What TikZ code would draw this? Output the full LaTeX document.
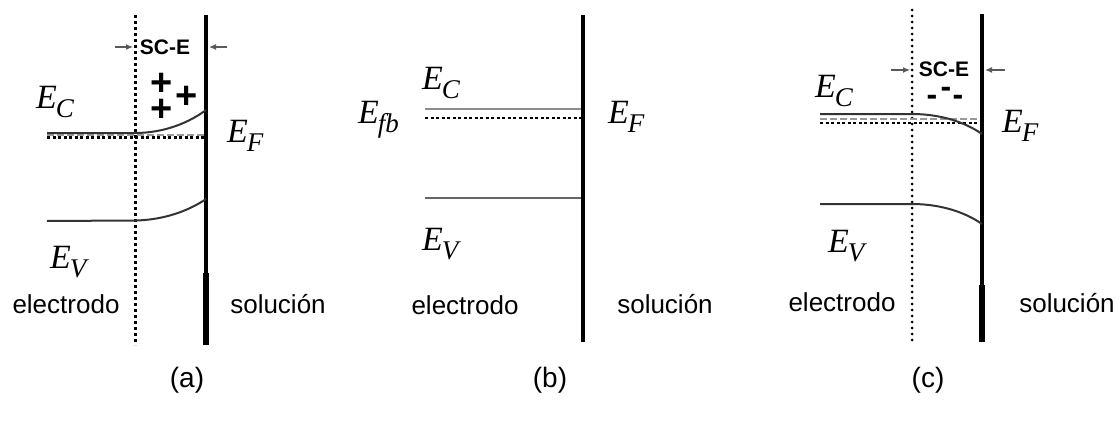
\documentclass[tikz,border=0pt]{standalone}
\usepackage{fontspec}
\setmainfont{Liberation Serif}
\newfontfamily\arialf{Liberation Sans}
\usetikzlibrary{arrows.meta}
\newcommand\lvl[1]{\textit{E}\kern-1pt\raisebox{-9pt}{\fontsize{27}{27}\selectfont\textit{#1}}}
\begin{document}
\begin{tikzpicture}[x=1pt,y=-1pt,
  wall/.style={line width=4.5pt, black},
  sqdots/.style={line width=3pt, dash pattern=on 3pt off 3pt},
  rddots/.style={line width=3pt, line cap=round, dash pattern=on 0pt off 6pt},
  band/.style={line width=2pt, black!80},
  fermi/.style={line width=2.5pt, dash pattern=on 3pt off 2.5pt},
  fermigray/.style={line width=1.8pt, black!40, dash pattern=on 7pt off 3pt},
  lbl/.style={font=\fontsize{34}{34}\selectfont, inner sep=0pt, anchor=base west},
  txt/.style={font=\arialf\fontsize{26}{26}\selectfont, inner sep=0pt, anchor=base},
  sublabel/.style={font=\arialf\fontsize{28}{28}\selectfont, inner sep=0pt, anchor=base},
  sc/.style={font=\arialf\bfseries\fontsize{21}{21}\selectfont, inner sep=0pt},
  chg/.style={font=\arialf\bfseries\fontsize{38}{38}\selectfont, inner sep=0pt},
  mchg/.style={font=\arialf\bfseries\fontsize{32}{32}\selectfont, inner sep=0pt},
  dimarrow/.style={-{Latex[length=7pt,width=6pt]}, line width=1.2pt, black!65}]
\useasboundingbox (0,0) rectangle (1117,423);

% ---------- panel (a)
\draw[sqdots] (135,15) -- (135,345);
\draw[wall] (206,15) -- (206,345);
\draw[line width=5.5pt] (206,273) -- (206,345);
\draw[fermigray] (47,135) -- (204,135);
\draw[fermi] (47,137.5) -- (204,137.5);
\draw[band] (47,133) -- (135,133) .. controls (165,133) and (190,122) .. (206,110);
\draw[band] (47,221) -- (135,220.5) .. controls (165,220) and (190,210) .. (206,199);
\node[lbl] (ecA) at (36,108) {\lvl{C}};
\node[lbl] (efA) at (227,142) {\lvl{F}};
\node[lbl] (evA) at (50,268) {\lvl{V}};
\node[sc] (sceA) at (165,47) {SC-E};
\coordinate (aL) at (115,47);
\coordinate (aLe) at (133,47);
\coordinate (aR) at (227,47);
\coordinate (aRe) at (209,47);
\draw[dimarrow] (aL) -- (aLe);
\draw[dimarrow] (aR) -- (aRe);
\node[chg] (p1) at (162,84) {+};
\node[chg] (p2) at (162,110) {+};
\node[chg] (p3) at (187,97) {+};
\node[txt] (elA) at (66,313) {electrodo};
\node[txt] (soA) at (278,313) {solución};
\node[sublabel] (la) at (187,387) {(a)};

% ---------- panel (b)
\draw[wall] (583,15) -- (583,342);
\draw[line width=2.5pt, black!45] (425,109) -- (581,109);
\draw[fermi] (425,118) -- (581,118);
\draw[line width=2.5pt, black!60] (425,198) -- (581,198);
\node[lbl] (ecB) at (422,89) {\lvl{C}};
\node[lbl] (efbB) at (358,123) {\lvl{fb}};
\node[lbl] (evB) at (422,250) {\lvl{V}};
\node[lbl] (efB) at (608,123) {\lvl{F}};
\node[txt] (elB) at (465,314) {electrodo};
\node[txt] (soB) at (665,313) {solución};
\node[sublabel] (lb) at (550,387) {(b)};

% ---------- panel (c)
\draw[rddots] (912,10) -- (912,342);
\draw[wall] (982,14) -- (982,342);
\draw[line width=5.5pt] (982,285) -- (982,342);
\draw[fermigray] (820,119) -- (980,119);
\draw[fermi] (820,123) -- (980,123);
\draw[band] (820,114) -- (912,114) .. controls (940,114) and (965,122) .. (982,134);
\draw[band] (820,204) -- (912,204) .. controls (940,204) and (965,212) .. (982,224);
\node[lbl] (ecC) at (815,97) {\lvl{C}};
\node[lbl] (efC) at (1002,132) {\lvl{F}};
\node[lbl] (evC) at (828,252) {\lvl{V}};
\node[sc] (sceC) at (944,69) {SC-E};
\coordinate (cL) at (891,70);
\coordinate (cLe) at (910,70);
\coordinate (cR) at (1005,70);
\coordinate (cRe) at (985,70);
\draw[dimarrow] (cL) -- (cLe);
\draw[dimarrow] (cR) -- (cRe);
\node[mchg] (m1) at (932,100) {-};
\node[mchg] (m2) at (946,92) {-};
\node[mchg] (m3) at (958,100) {-};
\node[txt] (elC) at (842,311) {electrodo};
\node[txt] (soC) at (1067,312) {solución};
\node[sublabel] (lc) at (928,387) {(c)};
\end{tikzpicture}
\end{document}
